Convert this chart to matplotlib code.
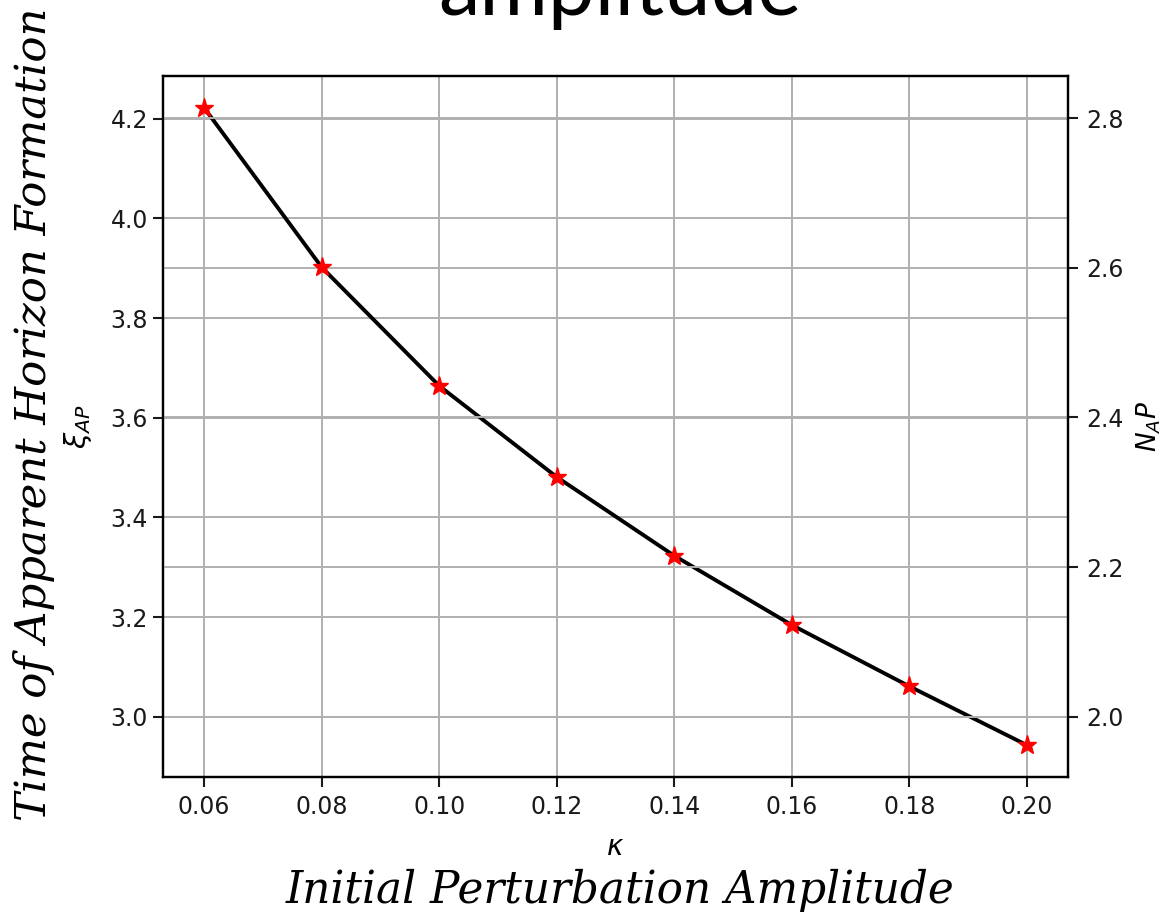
import matplotlib
matplotlib.use('Agg')
import matplotlib.pyplot as plt

kappa = [0.06, 0.08, 0.10, 0.12, 0.14, 0.16, 0.18, 0.20]
xi_ap = [4.222, 3.902, 3.664, 3.481, 3.323, 3.184, 3.061, 2.943]
n_ap = [2.814, 2.601, 2.442, 2.320, 2.215, 2.123, 2.041, 1.962]

fig = plt.figure(figsize=(11.63, 9.22), dpi=100)
ax = fig.add_axes([0.1402, 0.1573, 0.7781, 0.7603])
ax2 = ax.twinx()

ax.plot(kappa, xi_ap, color='k', lw=2.8)
ax2.plot(kappa, n_ap, 'r*', markersize=14)

for a in (ax, ax2):
    a.grid(True, color='#b0b0b0', lw=1.4)
    for s in a.spines.values():
        s.set_linewidth(1.6)
    a.tick_params(labelsize=17, length=7, width=1.5, colors='#1a1a1a')
ax.tick_params(axis='y', pad=4)
ax.tick_params(axis='x', pad=6)
ax2.tick_params(axis='y', pad=6)

ax.set_xlabel(r'$\kappa$', fontsize=20)
ax.xaxis.set_label_coords(0.5, -0.08)
ax.set_ylabel(r'$\xi_{AP}$', fontsize=21)
ax.yaxis.set_label_coords(-0.076, 0.5)
ax2.set_ylabel(r'$N_AP$', fontsize=19)
ax2.yaxis.set_label_coords(1.074, 0.5)

fig.text(0.029, 0.551, 'Time of Apparent Horizon Formation', rotation=90,
         ha='center', va='center', family='DejaVu Serif', style='italic', fontsize=31.2)
fig.text(0.533, 1 - 890 / 922, 'Initial Perturbation Amplitude', ha='center', va='center',
         family='DejaVu Serif', style='italic', fontsize=31.5)
fig.text(0.533, 1 - 15 / 922, 'amplitude', ha='center', va='baseline',
         family='Lato', fontsize=60)

fig.savefig('out.png', dpi=100)
